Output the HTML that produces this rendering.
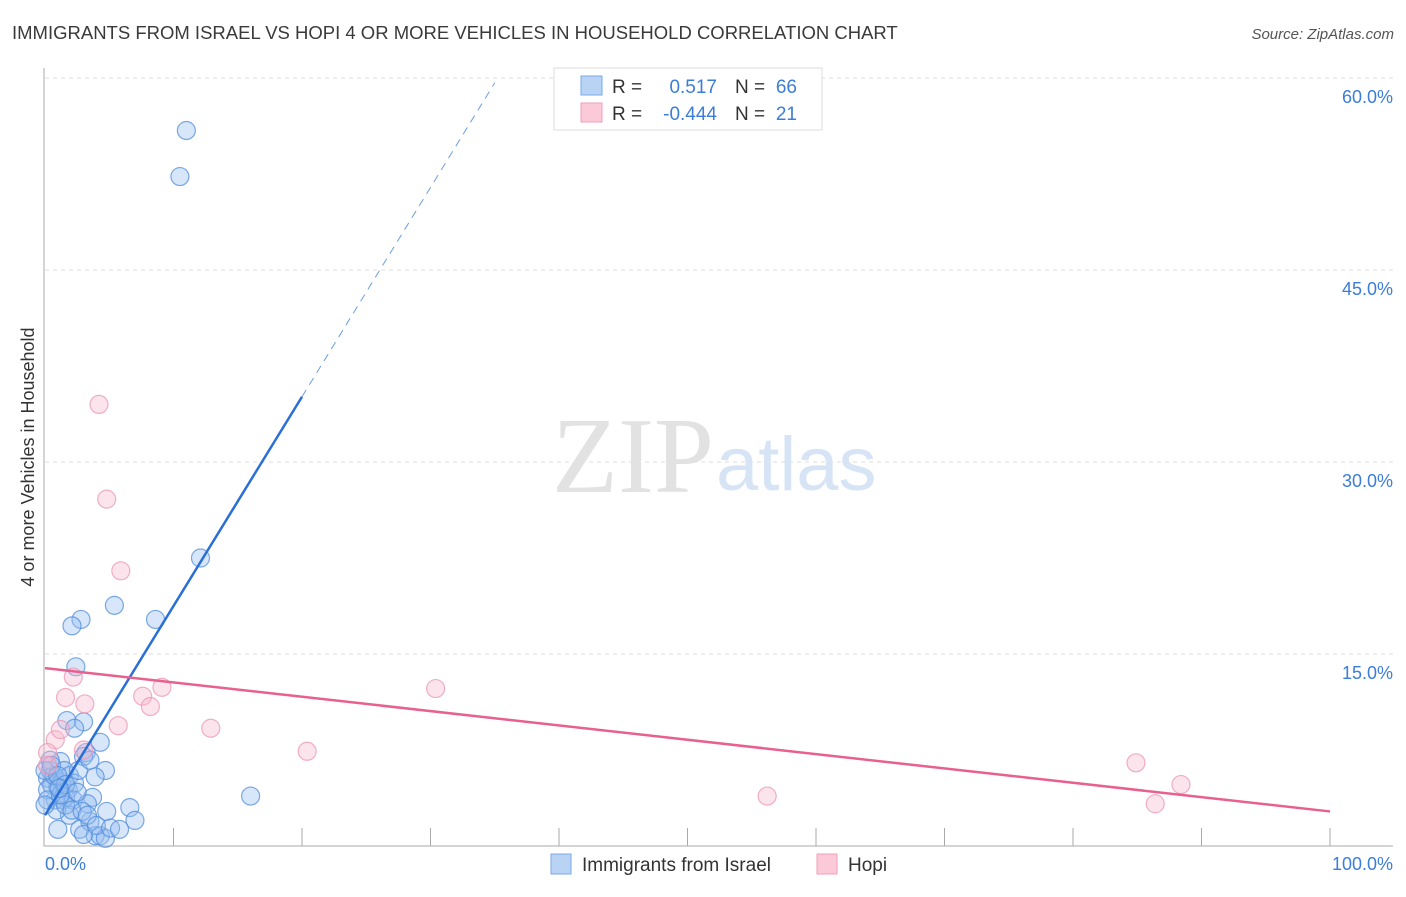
<!DOCTYPE html>
<html><head><meta charset="utf-8"><style>
body{margin:0;background:#fff;font-family:"Liberation Sans",sans-serif}
svg text{font-family:"Liberation Sans",sans-serif}
</style></head><body>
<svg width="1406" height="892" viewBox="0 0 1406 892">
<text x="12" y="39" font-size="18.5" fill="#3a3a3a">IMMIGRANTS FROM ISRAEL VS HOPI 4 OR MORE VEHICLES IN HOUSEHOLD CORRELATION CHART</text>
<text x="1394" y="39" font-size="15" fill="#555" font-style="italic" text-anchor="end">Source: ZipAtlas.com</text>
<g id="grid"></g>
<text x="714" y="492" font-size="108" fill="#e2e2e2" text-anchor="end" style="font-family:'Liberation Serif',serif">ZIP</text>
<text x="716" y="490" font-size="76" fill="#d6e4f5">atlas</text>
<line x1="44" y1="68" x2="44" y2="846" stroke="#aaa"/>
<line x1="44" y1="846" x2="1393" y2="846" stroke="#aaa"/>
<g id="ticks"></g>
<g id="marks"></g>
<text transform="translate(34,457) rotate(-90)" font-size="18" fill="#333" text-anchor="middle">4 or more Vehicles in Household</text>
<text x="45" y="870" font-size="18" fill="#3b7dd8">0.0%</text>
<text x="1393" y="870" font-size="18" fill="#3b7dd8" text-anchor="end">100.0%</text>
<g>
<rect x="554" y="68" width="268" height="62" fill="#fff" stroke="#ddd"/>
<rect x="581" y="76" width="21" height="19" fill="#b9d3f5" stroke="#7aaae8"/>
<rect x="581" y="103" width="21" height="19" fill="#fbc9d7" stroke="#f0a0b8"/>
<text x="612" y="93" font-size="19" fill="#333">R =</text>
<text x="717" y="93" font-size="19" fill="#3b7dd8" text-anchor="end">0.517</text>
<text x="735" y="93" font-size="19" fill="#333">N =</text>
<text x="797" y="93" font-size="19" fill="#3b7dd8" text-anchor="end">66</text>
<text x="612" y="120" font-size="19" fill="#333">R =</text>
<text x="717" y="120" font-size="19" fill="#3b7dd8" text-anchor="end">-0.444</text>
<text x="735" y="120" font-size="19" fill="#333">N =</text>
<text x="797" y="120" font-size="19" fill="#3b7dd8" text-anchor="end">21</text>
</g>
<g>
<rect x="551" y="854" width="20" height="20" fill="#b9d3f5" stroke="#7aaae8"/>
<text x="582" y="871" font-size="19" fill="#333">Immigrants from Israel</text>
<rect x="817" y="854" width="20" height="20" fill="#fbc9d7" stroke="#f0a0b8"/>
<text x="848" y="871" font-size="19" fill="#333">Hopi</text>
</g>
</svg>
<script>
const yTicks=[15,30,45,60];
const yTickLabels=["15.0%","30.0%","45.0%","60.0%"];
const xTickVals=[10,20,30,40,50,60,70,80,90,100];
const blueX=[11.0,10.5,12.1,5.4,8.6,2.8,2.1,2.4,1.7,3.0,2.3,4.3,3.2,3.0,4.7,3.9,1.2,0.4,0.2,0.5,1.0,1.3,1.8,1.9,2.3,1.6,0.8,1.4,2.2,3.7,3.3,1.9,4.8,6.6,7.0,16.0,1.0,2.7,3.9,4.3,3.5,3.0,4.7,0.2,0.2,0.7,1.5,2.6,3.5,0.9,1.6,0.4,0,1.2,2.1,2.9,3.3,4.0,5.1,5.8,0,0.5,1.0,1.6,2.5,1.1];
const blueY=[55.9,52.3,22.5,18.8,17.7,17.7,17.2,14.0,9.8,9.7,9.2,8.1,7.3,7.0,5.9,5.4,6.6,5.9,5.3,4.8,4.6,5.0,4.4,5.5,4.9,3.8,3.6,3.6,3.6,3.8,3.3,2.4,2.7,3.0,2.0,3.9,1.3,1.3,0.8,0.8,1.9,0.9,0.6,4.4,3.6,5.5,5.9,5.9,6.7,2.8,3.2,6.7,3.2,4.0,2.8,2.7,2.4,1.6,1.4,1.3,5.9,6.3,5.5,4.8,4.2,4.5];
const pinkX=[4.2,4.8,5.9,2.2,1.6,3.1,9.1,7.6,8.2,5.7,12.9,30.4,20.4,3.0,0.8,1.2,0.2,0.2,56.2,84.9,88.4,86.4];
const pinkY=[34.5,27.1,21.5,13.2,11.6,11.1,12.4,11.7,10.9,9.4,9.2,12.3,7.4,7.5,8.3,9.1,7.3,6.3,3.9,6.5,4.8,3.3];
const blueTrend=[2.4,35.1]; // value at x=0 and x=20
const blueTrendSolidEnd=20, blueTrendDashEnd=35;
const pinkTrend=[13.9,2.7]; // value at x=0 and x=100
const NS="http://www.w3.org/2000/svg";
const sx=v=>45+v*12.85, sy=v=>846-v*12.8;
function mk(t,a,p){const e=document.createElementNS(NS,t);for(const k in a)e.setAttribute(k,a[k]);p.appendChild(e);return e;}
const grid=document.getElementById('grid'),ticks=document.getElementById('ticks'),marks=document.getElementById('marks');
yTicks.forEach((v,i)=>{
 const l=mk('line',{x1:45,x2:1393,y1:sy(v),y2:sy(v),stroke:'#ddd','stroke-dasharray':'4,4'},grid);
 
 
 const t=mk('text',{x:1393,y:sy(v)+25,'font-size':18,fill:'#3b7dd8','text-anchor':'end'},grid);
 t.textContent=yTickLabels[i];
 
 
});
xTickVals.forEach(v=>{
 const l=mk('line',{x1:sx(v),x2:sx(v),y1:828,y2:846,stroke:'#aaa'},ticks);
 
 
});
blueX.forEach((x,i)=>{
 const c=mk('circle',{cx:sx(x),cy:sy(blueY[i]),r:9,fill:'rgba(150,190,240,0.38)',stroke:'rgba(80,140,220,0.75)','stroke-width':1.2},marks);
 
 
});
pinkX.forEach((x,i)=>{
 const c=mk('circle',{cx:sx(x),cy:sy(pinkY[i]),r:9,fill:'rgba(248,185,205,0.38)',stroke:'rgba(235,150,180,0.75)','stroke-width':1.2},marks);
 
 
});
const bAt=x=>blueTrend[0]+(blueTrend[1]-blueTrend[0])*x/20;
let l1=mk('line',{x1:sx(0),y1:sy(bAt(0)),x2:sx(blueTrendSolidEnd),y2:sy(bAt(blueTrendSolidEnd)),stroke:'#2a6fd6','stroke-width':2.5},marks);


let l2=mk('line',{x1:sx(blueTrendSolidEnd),y1:sy(bAt(blueTrendSolidEnd)),x2:sx(blueTrendDashEnd),y2:sy(bAt(blueTrendDashEnd)),stroke:'#6a9fe0','stroke-width':1,'stroke-dasharray':'8,6'},marks);


let l3=mk('line',{x1:sx(0),y1:sy(pinkTrend[0]),x2:sx(100),y2:sy(pinkTrend[1]),stroke:'#e8608e','stroke-width':2.5},marks);


</script>
</body></html>
